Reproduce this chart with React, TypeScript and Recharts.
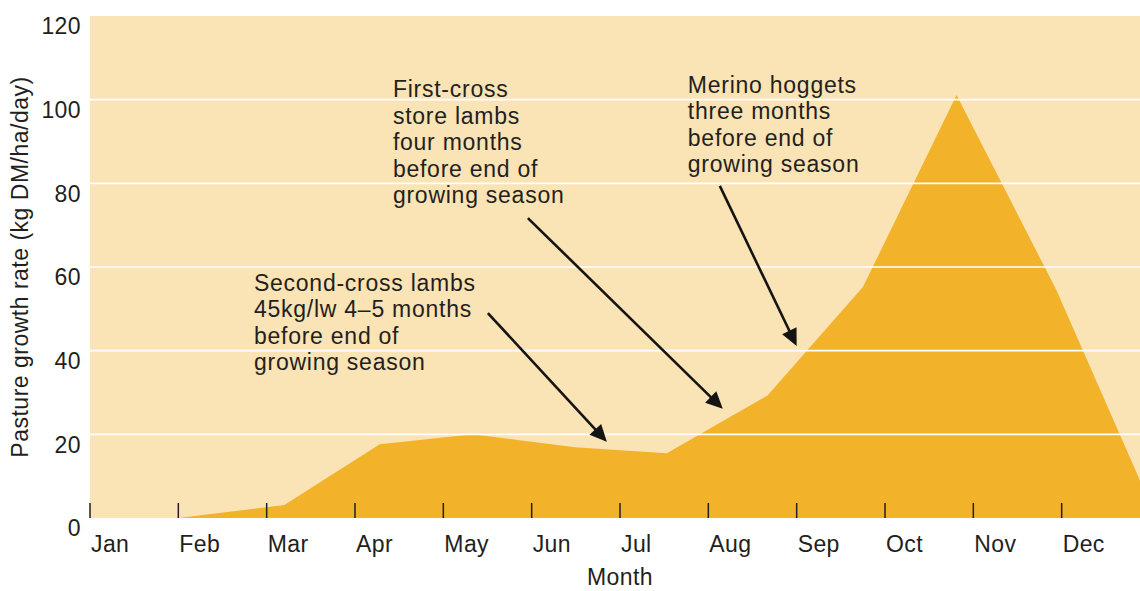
import React from 'react';
import { AreaChart, Area, XAxis, YAxis, CartesianGrid, ReferenceLine, ReferenceDot } from 'recharts';

// Month boundary ticks (x in months from start of Jan)
const monthTicks = [0, 1, 2, 3, 4, 5, 6, 7, 8, 9, 10, 11];
const monthLabels = ['Jan', 'Feb', 'Mar', 'Apr', 'May', 'Jun', 'Jul', 'Aug', 'Sep', 'Oct', 'Nov', 'Dec'];
const yTicks = [0, 20, 40, 60, 80, 100, 120];
const gridValues = [20, 40, 60, 80, 100];

// Pasture growth curve (x in months, growth in kg DM/ha/day)
const growthX = [1.0, 2.2, 3.28, 4.34, 5.49, 6.53, 7.67, 8.75, 9.81, 10.94, 12.0];
const growthY = [0, 3.1, 17.6, 20.0, 16.9, 15.5, 29.3, 55.2, 101.1, 54.5, 3.5];

// Annotations: text anchor (x, y) and arrow (from -> to)
const noteTexts = [
  ['Second-cross lambs', '45kg/lw 4\u20135 months', 'before end of', 'growing season'],
  ['First-cross', 'store lambs', 'four months', 'before end of', 'growing season'],
  ['Merino hoggets', 'three months', 'before end of', 'growing season'],
];
const noteX = [1.856, 3.429, 6.768];
const noteY = [54.3, 100.6, 101.6];
const arrowFromX = [4.504, 4.957, 7.13];
const arrowFromY = [49.0, 71.7, 79.4];
const arrowToX = [5.851, 7.164, 8.0];
const arrowToY = [18.2, 26.1, 41.1];

const data = growthX.map((m, i) => ({ m, v: growthY[i] }));

const FONT = '"Liberation Sans", Arial, Helvetica, sans-serif';
const TEXT = '#231f20';
const BG = '#FAE3B4';
const FILL = '#F2B32A';

const XTick = (props: any) => {
  const { x, y, payload } = props;
  const idx = monthTicks.indexOf(payload.value);
  return (
    <g>
      <line x1={x} y1={y - 15} x2={x} y2={y} stroke={TEXT} strokeWidth={1.5} />
      <text x={x + 1} y={y + 34} textAnchor="start" fill={TEXT} fontSize={23} fontFamily={FONT} letterSpacing={0.4}>
        {monthLabels[idx]}
      </text>
    </g>
  );
};

const YTick = (props: any) => {
  const { x, y, payload } = props;
  return (
    <text x={x + 1} y={y + 10} dy="0.36em" textAnchor="end" fill={TEXT} fontSize={23} fontFamily={FONT} letterSpacing={0.4}>
      {payload.value}
    </text>
  );
};

const Arrow = (props: any) => {
  const { x1, y1, x2, y2 } = props;
  if ([x1, y1, x2, y2].some((v) => typeof v !== 'number' || isNaN(v))) return null;
  const dx = x2 - x1;
  const dy = y2 - y1;
  const len = Math.sqrt(dx * dx + dy * dy);
  const ux = dx / len;
  const uy = dy / len;
  const L = 17;
  const W = 8;
  const bx = x2 - ux * L;
  const by = y2 - uy * L;
  const p1 = `${x2},${y2}`;
  const p2 = `${bx - uy * W},${by + ux * W}`;
  const p3 = `${bx + uy * W},${by - ux * W}`;
  return (
    <g>
      <line x1={x1} y1={y1} x2={bx + ux * 2} y2={by + uy * 2} stroke="#141414" strokeWidth={2.6} />
      <polygon points={`${p1} ${p2} ${p3}`} fill="#141414" />
    </g>
  );
};

const makeNote = (lines: string[]) => (props: any) => {
  const { cx, cy } = props;
  if (typeof cx !== 'number' || typeof cy !== 'number') return null;
  return (
    <text x={cx} y={cy} fill={TEXT} fontSize={23} fontFamily={FONT} letterSpacing={0.75}>
      {lines.map((t, i) => (
        <tspan key={i} x={cx} y={cy + i * 26.5}>
          {t}
        </tspan>
      ))}
    </text>
  );
};

const YTitle = (props: any) => {
  const vb = props.viewBox || {};
  const cx = (vb.x || 0) + 28;
  const cy = (vb.y || 0) + (vb.height || 0) / 2;
  return (
    <text
      transform={`translate(${cx},${cy}) rotate(-90)`}
      textAnchor="middle"
      fill={TEXT}
      fontSize={23}
      fontFamily={FONT}
      letterSpacing={0.5}
    >
      Pasture growth rate (kg DM/ha/day)
    </text>
  );
};

export default function App() {
  return (
    <div style={{ position: 'absolute', left: 0, top: 0, width: 1140, height: 591, overflow: 'hidden', background: '#fff' }}>
      <AreaChart width={1150} height={591} data={data} margin={{ top: 16, right: 0, bottom: 0, left: 0 }}>
        <CartesianGrid fill={BG} stroke="none" horizontal={false} vertical={false} />
        <XAxis
          type="number"
          dataKey="m"
          domain={[0, 12]}
          ticks={monthTicks}
          interval={0}
          height={73}
          axisLine={false}
          tickLine={false}
          tickSize={0}
          tickMargin={0}
          tick={<XTick />}
          label={{ value: 'Month', position: 'insideBottom', offset: 6, fill: TEXT, fontSize: 23, fontFamily: FONT, letterSpacing: 0.4 }}
        />
        <YAxis
          type="number"
          domain={[0, 120]}
          ticks={yTicks}
          interval={0}
          width={90}
          axisLine={false}
          tickLine={false}
          tickSize={0}
          tickMargin={10}
          tick={<YTick />}
          label={<YTitle />}
        />
        <Area
          type="linear"
          dataKey="v"
          stroke="none"
          fill={FILL}
          fillOpacity={1}
          isAnimationActive={false}
          dot={false}
          activeDot={false}
        />
        {gridValues.map((g) => (
          <ReferenceLine key={`g${g}`} y={g} stroke="#ffffff" strokeWidth={1.6} />
        ))}
        {arrowFromX.map((fx, i) => (
          <ReferenceLine
            key={`a${i}`}
            segment={[
              { x: fx, y: arrowFromY[i] },
              { x: arrowToX[i], y: arrowToY[i] },
            ]}
            shape={<Arrow />}
            ifOverflow="visible"
          />
        ))}
        {noteTexts.map((lines, i) => (
          <ReferenceDot key={`n${i}`} x={noteX[i]} y={noteY[i]} r={0} shape={makeNote(lines)} ifOverflow="visible" />
        ))}
      </AreaChart>
    </div>
  );
}
